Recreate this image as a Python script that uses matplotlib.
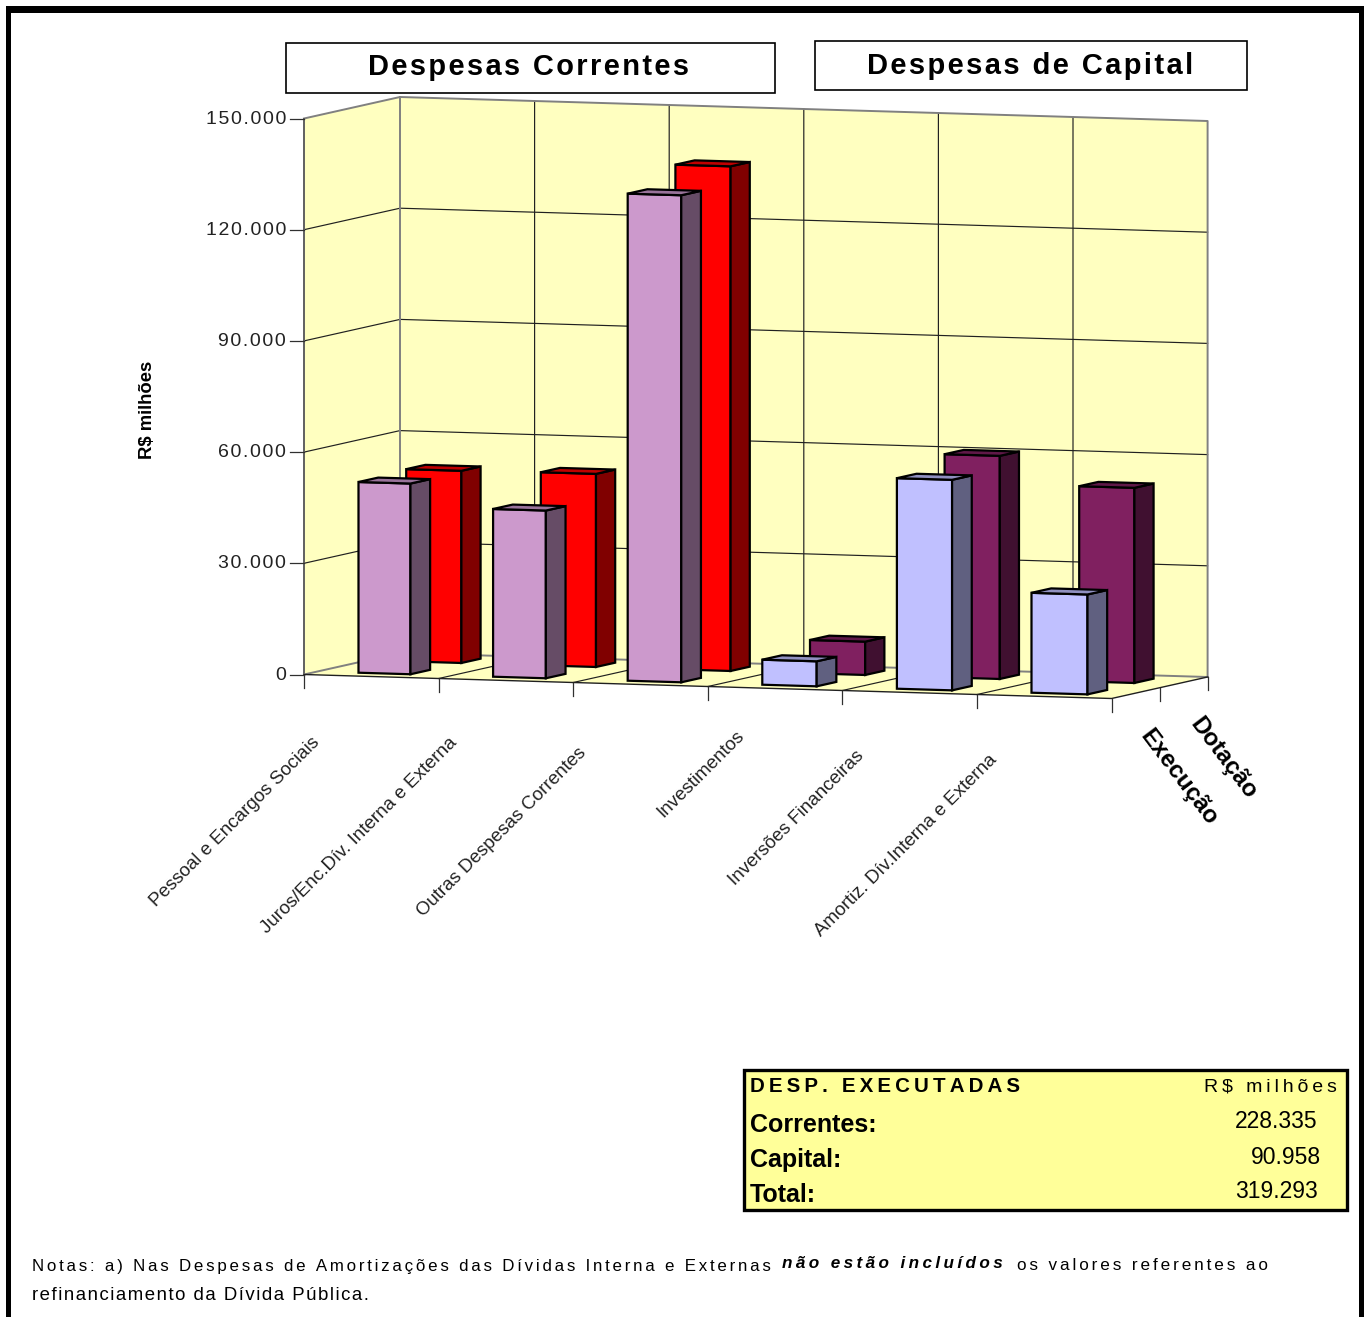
import matplotlib
matplotlib.use('Agg')
import matplotlib.pyplot as plt
from matplotlib.patches import Polygon, Rectangle

plt.rcParams['font.family'] = ['Liberation Sans', 'DejaVu Sans']

categories = ['Pessoal e Encargos Sociais', 'Juros/Enc.Dív. Interna e Externa', 'Outras Despesas Correntes',
              'Investimentos', 'Inversões Financeiras', 'Amortiz. Dív.Interna e Externa']
execucao = [51450, 45250, 131400, 6750, 56800, 26950]
dotacao = [51850, 52100, 136150, 9000, 60200, 52650]
y_ticks = [0, 30000, 60000, 90000, 120000, 150000]
y_tick_labels = ['0', '30.000', '60.000', '90.000', '120.000', '150.000']
series_names = ['Execução', 'Dotação']
table_rows = ['Correntes:', 'Capital:', 'Total:']
table_values = ['228.335', '90.958', '319.293']

# oblique projection of the excel 3d box, in picture pixels
X0, Y0 = 304, 674.5
CAT_DX, CAT_DY = 134.6, 4.0
DEPTH_DX, DEPTH_DY = 96, -21.5
V_SCALE = 556 / 150000


def proj(c, s, v=0):
    return X0 + c * CAT_DX + s * DEPTH_DX, Y0 + c * CAT_DY + s * DEPTH_DY - v * V_SCALE


def spaced(txt, sep='\u200a'):
    return sep.join(txt)


def box3d(ax, c0, c1, s0, s1, v, colors):
    front, side, top = colors
    kw = dict(ec='black', lw=1.6, joinstyle='miter', zorder=3)
    ax.add_patch(Polygon([proj(c0, s0), proj(c1, s0), proj(c1, s0, v), proj(c0, s0, v)], fc=front, **kw))
    ax.add_patch(Polygon([proj(c1, s0), proj(c1, s1), proj(c1, s1, v), proj(c1, s0, v)], fc=side, **kw))
    ax.add_patch(Polygon([proj(c0, s0, v), proj(c1, s0, v), proj(c1, s1, v), proj(c0, s1, v)], fc=top, **kw))


fig = plt.figure(figsize=(13.67, 13.17), dpi=100)
ax = fig.add_axes([0, 0, 1, 1])
ax.set_xlim(0, 1367)
ax.set_ylim(1317, 0)
ax.axis('off')

# outer frame, no bottom edge
ax.add_patch(Rectangle((6, 6), 5, 1311, fc='black', ec='none'))
ax.add_patch(Rectangle((6, 6), 1358, 7, fc='black', ec='none'))
ax.add_patch(Rectangle((1359, 6), 5, 1311, fc='black', ec='none'))

# walls and floor
n = len(categories)
vmax = y_ticks[-1]
wall = '#FFFFC0'
ax.add_patch(Polygon([proj(0, 0), proj(0, 1), proj(0, 1, vmax), proj(0, 0, vmax)], fc=wall, ec='none'))
ax.add_patch(Polygon([proj(0, 1), proj(n, 1), proj(n, 1, vmax), proj(0, 1, vmax)], fc=wall, ec='none'))
ax.add_patch(Polygon([proj(0, 0), proj(n, 0), proj(n, 1), proj(0, 1)], fc=wall, ec='none'))

for v in y_ticks[1:-1]:
    ax.plot(*zip(proj(0, 0, v), proj(0, 1, v), proj(n, 1, v)), color='#202020', lw=0.85)
for c in range(1, n):
    ax.plot(*zip(proj(c, 0), proj(c, 1), proj(c, 1, vmax)), color='#202020', lw=0.85)
ax.plot(*zip(proj(0, 0, vmax), proj(0, 1, vmax), proj(n, 1, vmax), proj(n, 1)), color='#808080', lw=1.4)
ax.plot(*zip(proj(0, 0), proj(0, 0, vmax)), color='#606060', lw=1.4)
ax.plot(*zip(proj(0, 1), proj(0, 1, vmax)), color='#808080', lw=1.4)
ax.plot(*zip(proj(0, 0), proj(0, 1), proj(n, 1)), color='#808080', lw=1.4)

# axis lines and ticks
ax.plot(*zip(proj(0, 0), proj(n, 0), proj(n, 1)), color='#202020', lw=1.0)
for v, lab in zip(y_ticks, y_tick_labels):
    x, y = proj(0, 0, v)
    ax.plot([x - 14, x], [y, y], color='#303030', lw=0.9)
    ax.text(x - 18, y + 0.5, spaced(lab), ha='right', va='center', fontsize=14, color='#222222')
for c in range(n + 1):
    x, y = proj(c, 0)
    ax.plot([x, x], [y, y + 13], color='#303030', lw=0.9)
for s in [0.5, 1]:
    x, y = proj(n, s)
    ax.plot([x, x], [y, y + 13], color='#303030', lw=0.9)

# bars, back row first. front row gets a bit wider to the right (perspective in the original)
exec_colors = [('#CC99CC', '#664C66', '#99739A')] * 3 + [('#C0C0FF', '#606080', '#9090C0')] * 3
dot_colors = [('#FF0000', '#800000', '#BF0000')] * 3 + [('#802060', '#401030', '#601848')] * 3
for i in range(n):
    box3d(ax, i + 0.285, i + 0.695, 0.665, 0.865, dotacao[i], dot_colors[i])
for i in range(n):
    box3d(ax, i + 0.305, i + 0.305 + 0.386 + 0.006 * i, 0.14, 0.345, execucao[i], exec_colors[i])

# category labels, end of text under each tick
label_ends = [(317, 740), (454, 740), (584, 750), (742, 733), (861, 753), (994, 757)]
for lab, (x, y) in zip(categories, label_ends):
    ax.text(x, y, lab, rotation=45, rotation_mode='anchor', ha='right', va='center', fontsize=13.5, color='#222222')

# depth axis labels
ax.text(1179, 777, series_names[0], rotation=-53, ha='center', va='center', rotation_mode='anchor',
        fontsize=17.5, fontweight='bold')
ax.text(1223, 758, series_names[1], rotation=-53, ha='center', va='center', rotation_mode='anchor',
        fontsize=17.5, fontweight='bold')
ax.text(147, 410, 'R$ milhões', rotation=90, ha='center', va='center', fontsize=13.3, fontweight='bold')

# title boxes
ax.add_patch(Rectangle((286, 43), 489, 50, fc='white', ec='black', lw=1.2))
ax.add_patch(Rectangle((815, 41), 432, 49, fc='white', ec='black', lw=1.2))
ax.text(528, 67, spaced('Despesas Correntes'), ha='center', va='center', fontsize=20.9, fontweight='bold')
ax.text(1030, 66, spaced('Despesas de Capital'), ha='center', va='center', fontsize=21, fontweight='bold')

# summary table
ax.add_patch(Rectangle((744, 1070), 603, 140, fc='#FFFF99', ec='black', lw=2.4))
ax.text(750, 1087, spaced('DESP. EXECUTADAS', '\u2009'), ha='left', va='center', fontsize=14.8, fontweight='bold')
ax.text(1337, 1087, spaced('R$ milhões', '\u2009'), ha='right', va='center', fontsize=14)
val_right = [1318, 1321, 1318]
for i, (lab, val) in enumerate(zip(table_rows, table_values)):
    ax.text(750, 1124.5 + i * 35, lab, ha='left', va='center', fontsize=18, fontweight='bold')
    ax.text(val_right[i], 1122 + i * 35, val, ha='right', va='center', fontsize=16.5)

# note
ax.text(32, 1266, spaced('Notas: a) Nas Despesas de Amortizações das Dívidas Interna e Externas', '\u2006'),
        ha='left', va='center', fontsize=12.2)
ax.text(782, 1264, spaced('não estão incluídos', '\u2009'), ha='left', va='center', fontsize=12.3,
        fontweight='bold', fontstyle='italic')
ax.text(1017, 1265.5, spaced('os valores referentes ao', '\u2006'), ha='left', va='center', fontsize=12.3)
ax.text(32, 1296, spaced('refinanciamento da Dívida Pública.'), ha='left', va='center', fontsize=13.4)

fig.savefig('out.png', dpi=100)
